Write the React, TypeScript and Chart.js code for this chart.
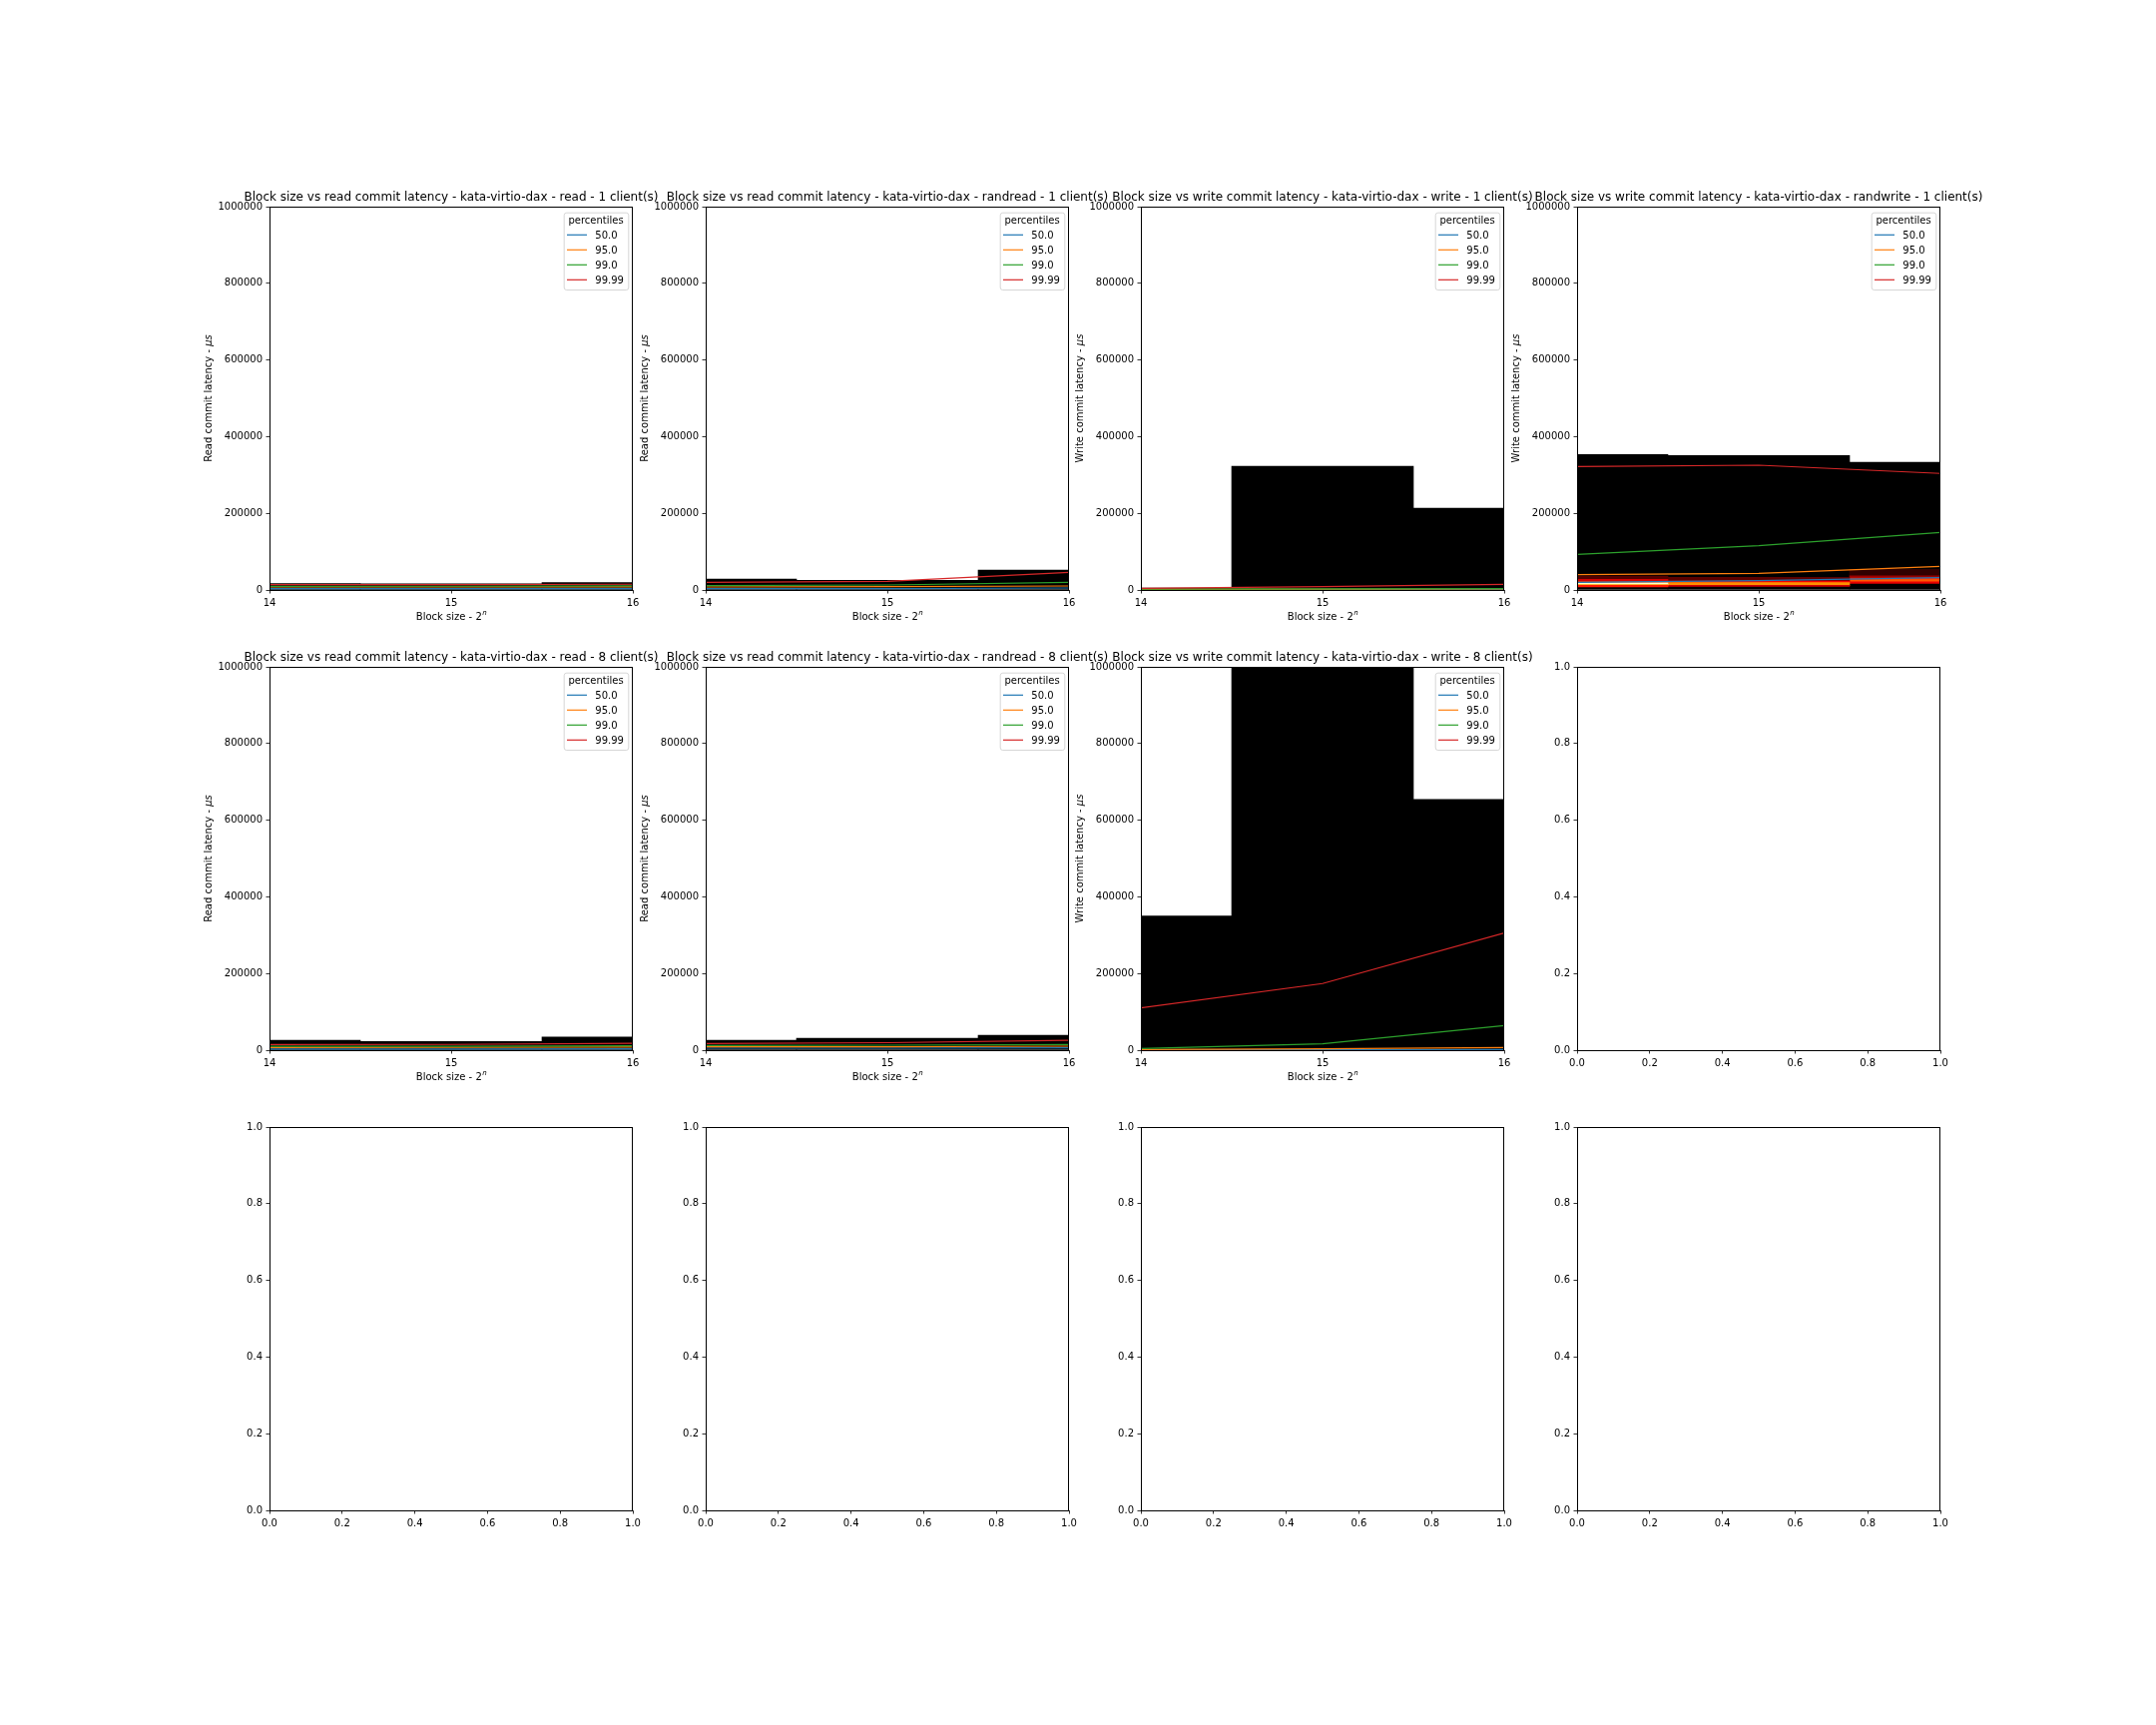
import React, { useEffect, useRef } from 'react';
import { Chart, registerables } from 'chart.js';

Chart.register(...registerables);

const FONT = "'DejaVu Sans', 'Liberation Sans', sans-serif";

// ---------------- data ----------------
const blockSizes = [14, 15, 16];
const percentileLabels = ['50.0', '95.0', '99.0', '99.99'];
const latencyMax = 1000000;
const latencyTickStep = 200000;
const unitTickStep = 0.2;

const panelTitles = [
  'Block size vs read commit latency - kata-virtio-dax - read - 1 client(s)',
  'Block size vs read commit latency - kata-virtio-dax - randread - 1 client(s)',
  'Block size vs write commit latency - kata-virtio-dax - write - 1 client(s)',
  'Block size vs write commit latency - kata-virtio-dax - randwrite - 1 client(s)',
  'Block size vs read commit latency - kata-virtio-dax - read - 8 client(s)',
  'Block size vs read commit latency - kata-virtio-dax - randread - 8 client(s)',
  'Block size vs write commit latency - kata-virtio-dax - write - 8 client(s)',
];
const readAxisLabel = ['Read commit latency - ', 'μs'];
const writeAxisLabel = ['Write commit latency - ', 'μs'];
const xAxisLabel = ['Block size - 2', 'n'];
const legendTitle = 'percentiles';

// percentile lines [p50, p95, p99, p99.99], values at block sizes 14, 15, 16 (µs)
const read1Lines = [[3500, 3500, 3800], [7800, 7800, 8200], [9600, 9800, 10500], [13900, 14000, 15000]];
const read1Max = [16500, 16000, 19000];

const randread1Lines = [[3500, 3500, 5200], [7800, 8700, 10400], [11300, 13000, 20000], [20000, 22600, 46000]];
const randread1Max = [28600, 25000, 52000];

const write1Lines = [[800, 900, 1000], [1800, 2200, 2800], [2500, 3000, 3800], [4400, 8700, 14800]];
const write1Max = [5000, 323000, 213500];

const randwrite1Lines = [[20000, 24300, 32000], [40000, 43400, 61600], [93000, 115500, 150000], [322000, 325500, 304000]];
const randwrite1Max = [353000, 350700, 333000];
// latency density bands [low, high, density 0..1] for each block size
const randwrite1Heat = [
  [[8000, 12000, 0.4], [12000, 14000, 0.6], [14000, 18500, 0.95], [18500, 22000, 0.45], [22000, 28000, 0.3], [28000, 36000, 0.12]],
  [[9000, 12000, 0.3], [12000, 19000, 0.58], [19000, 23000, 0.35], [23000, 33000, 0.13]],
  [[17000, 21000, 0.33], [21000, 27000, 0.5], [27000, 31000, 0.42], [31000, 37000, 0.22], [37000, 54000, 0.07]],
];

const read8Lines = [[3000, 3000, 3500], [7000, 7200, 8000], [10000, 10000, 11500], [14500, 15000, 18000]];
const read8Max = [26000, 22600, 34500];

const randread8Lines = [[5200, 5200, 6000], [8700, 8700, 10400], [12000, 13000, 14800], [17500, 19500, 25500]];
const randread8Max = [26000, 31000, 39000];

const write8Lines = [[900, 1200, 1700], [1700, 3500, 7000], [4300, 16500, 64300], [110300, 173800, 305800]];
const write8Max = [350000, 1200000, 654000];

// ---------------- styles / layout ----------------
const LINE_COLORS = ['#1f77b4', '#ff7f0e', '#2ca02c', '#d62728'];
const LINE_WIDTH = 1.2;
const COL_LEFT = [270, 707, 1143, 1580];
const ROW_TOP = [207, 668, 1129];
const PW = 364;
const PH = 384;
const ML = 120;
const MT = 40;
const MR = 90;
const MB = 50;
const CW = ML + PW + MR;
const CH = MT + PH + MB;

function hot(t: number) {
  const r = Math.min(1, t / 0.365);
  const g = Math.max(0, Math.min(1, (t - 0.365) / 0.381));
  const b = Math.max(0, Math.min(1, (t - 0.746) / 0.254));
  return `rgb(${Math.round(r * 255)},${Math.round(g * 255)},${Math.round(b * 255)})`;
}

type PanelCfg = {
  row: number;
  col: number;
  empty: boolean;
  title?: string;
  yLabel?: string[];
  lines?: number[][];
  max?: number[];
  heat?: number[][][] | null;
};

const panels: PanelCfg[] = [
  { row: 0, col: 0, empty: false, title: panelTitles[0], yLabel: readAxisLabel, lines: read1Lines, max: read1Max, heat: null },
  { row: 0, col: 1, empty: false, title: panelTitles[1], yLabel: readAxisLabel, lines: randread1Lines, max: randread1Max, heat: null },
  { row: 0, col: 2, empty: false, title: panelTitles[2], yLabel: writeAxisLabel, lines: write1Lines, max: write1Max, heat: null },
  { row: 0, col: 3, empty: false, title: panelTitles[3], yLabel: writeAxisLabel, lines: randwrite1Lines, max: randwrite1Max, heat: randwrite1Heat },
  { row: 1, col: 0, empty: false, title: panelTitles[4], yLabel: readAxisLabel, lines: read8Lines, max: read8Max, heat: null },
  { row: 1, col: 1, empty: false, title: panelTitles[5], yLabel: readAxisLabel, lines: randread8Lines, max: randread8Max, heat: null },
  { row: 1, col: 2, empty: false, title: panelTitles[6], yLabel: writeAxisLabel, lines: write8Lines, max: write8Max, heat: null },
  { row: 1, col: 3, empty: true },
  { row: 2, col: 0, empty: true },
  { row: 2, col: 1, empty: true },
  { row: 2, col: 2, empty: true },
  { row: 2, col: 3, empty: true },
];

const decorPlugin = {
  id: 'decor',
  afterDraw(chart: any, _args: any, o: any) {
    const ctx: CanvasRenderingContext2D = chart.ctx;
    const a = chart.chartArea;
    const cx = (a.left + a.right) / 2;
    const cy = (a.top + a.bottom) / 2;
    ctx.save();
    // spines
    ctx.strokeStyle = '#000';
    ctx.lineWidth = 1;
    ctx.strokeRect(a.left + 0.5, a.top + 0.5, a.right - a.left - 1, a.bottom - a.top);

    ctx.fillStyle = '#000';
    if (o.title) {
      ctx.font = `12px ${FONT}`;
      ctx.textAlign = 'center';
      ctx.textBaseline = 'alphabetic';
      ctx.fillText(o.title, cx, a.top - 6);
    }
    if (o.yLabel) {
      ctx.save();
      ctx.translate(a.left - 58.5, cy);
      ctx.rotate(-Math.PI / 2);
      ctx.textBaseline = 'alphabetic';
      ctx.textAlign = 'left';
      ctx.font = `10px ${FONT}`;
      const w1 = ctx.measureText(o.yLabel[0]).width;
      ctx.font = `italic 10px ${FONT}`;
      const w2 = ctx.measureText(o.yLabel[1]).width;
      const x0 = -(w1 + w2) / 2;
      ctx.font = `10px ${FONT}`;
      ctx.fillText(o.yLabel[0], x0, 0);
      ctx.font = `italic 10px ${FONT}`;
      ctx.fillText(o.yLabel[1], x0 + w1, 0);
      ctx.restore();
    }
    if (o.xLabel) {
      ctx.textBaseline = 'alphabetic';
      ctx.textAlign = 'left';
      ctx.font = `10px ${FONT}`;
      const w1 = ctx.measureText(o.xLabel[0]).width;
      ctx.font = `italic 7px ${FONT}`;
      const w2 = ctx.measureText(o.xLabel[1]).width;
      const x0 = cx - (w1 + w2) / 2;
      const by = a.bottom + 29.7;
      ctx.font = `10px ${FONT}`;
      ctx.fillText(o.xLabel[0], x0, by);
      ctx.font = `italic 7px ${FONT}`;
      ctx.fillText(o.xLabel[1], x0 + w1 + 0.5, by - 4.5);
    }
    if (o.legend) {
      const bx = a.right - 69.3;
      const by = a.top + 5.7;
      const bw = 64.6;
      const bh = 77.3;
      ctx.beginPath();
      (ctx as any).roundRect(bx + 0.5, by + 0.5, bw, bh, 2.5);
      ctx.fillStyle = 'rgba(255,255,255,0.8)';
      ctx.fill();
      ctx.strokeStyle = '#cccccc';
      ctx.lineWidth = 0.8;
      ctx.stroke();
      ctx.fillStyle = '#000';
      ctx.font = `10px ${FONT}`;
      ctx.textAlign = 'center';
      ctx.textBaseline = 'alphabetic';
      ctx.fillText(legendTitle, bx + bw / 2, a.top + 13.3 + 3.6);
      ctx.textAlign = 'left';
      percentileLabels.forEach((lab, i) => {
        const y = a.top + 28.3 + 15 * i;
        ctx.strokeStyle = LINE_COLORS[i];
        ctx.lineWidth = LINE_WIDTH;
        ctx.beginPath();
        ctx.moveTo(a.right - 66, y);
        ctx.lineTo(a.right - 46, y);
        ctx.stroke();
        ctx.fillStyle = '#000';
        ctx.fillText(lab, a.right - 37.7, y + 3.6);
      });
    }
    ctx.restore();
  },
};

function axisOptions(min: number, max: number, step: number, fmt: (v: number) => string, horizontal: boolean) {
  return {
    type: 'linear',
    min,
    max,
    offset: false,
    ticks: {
      stepSize: step,
      autoSkip: false,
      maxRotation: 0,
      minRotation: 0,
      color: '#000',
      font: { family: FONT, size: 10 },
      padding: 3.5,
      callback: (v: any) => fmt(Number(v)),
    },
    grid: {
      display: true,
      drawOnChartArea: false,
      drawTicks: true,
      tickLength: 3.5,
      tickWidth: 0.8,
      tickColor: '#000',
      color: '#000',
      offset: false,
    },
    border: { display: false },
    afterFit: (s: any) => {
      if (horizontal) s.height = MB;
      else s.width = ML;
    },
  };
}

function buildConfig(p: PanelCfg): any {
  const datasets: any[] = [];
  if (!p.empty && p.lines && p.max) {
    p.lines.forEach((vals, i) => {
      datasets.push({
        type: 'line',
        label: percentileLabels[i],
        data: blockSizes.map((x, j) => ({ x, y: vals[j] })),
        borderColor: LINE_COLORS[i],
        backgroundColor: LINE_COLORS[i],
        borderWidth: LINE_WIDTH,
        pointRadius: 0,
        pointHoverRadius: 0,
        tension: 0,
        fill: false,
        order: 3 - i,
      });
    });
    if (p.heat) {
      p.heat.forEach((bands, j) => {
        bands.forEach(([lo, hi, d]) => {
          datasets.push({
            type: 'bar',
            data: [{ x: blockSizes[j], y: [lo, hi] }],
            backgroundColor: hot(d),
            borderWidth: 0,
            grouped: false,
            barPercentage: 1,
            categoryPercentage: 1,
            order: 10,
            clip: 0,
          });
        });
      });
    }
    datasets.push({
      type: 'bar',
      data: blockSizes.map((x, j) => ({ x, y: p.max![j] })),
      backgroundColor: '#000',
      borderWidth: 0,
      grouped: false,
      barPercentage: 1,
      categoryPercentage: 1,
      order: 20,
      clip: 0,
    });
  }
  const x = p.empty
    ? axisOptions(0, 1, unitTickStep, (v) => v.toFixed(1), true)
    : axisOptions(blockSizes[0], blockSizes[blockSizes.length - 1], 1, (v) => String(v), true);
  const y = p.empty
    ? axisOptions(0, 1, unitTickStep, (v) => v.toFixed(1), false)
    : axisOptions(0, latencyMax, latencyTickStep, (v) => String(v), false);
  return {
    type: 'line',
    data: { datasets },
    options: {
      animation: false,
      responsive: false,
      devicePixelRatio: 1,
      events: [],
      parsing: true,
      layout: { padding: { left: 0, top: MT, right: MR, bottom: 0 } },
      scales: { x, y },
      plugins: {
        legend: { display: false },
        title: { display: false },
        tooltip: { enabled: false },
        decor: p.empty
          ? { title: '', yLabel: null, xLabel: null, legend: false }
          : { title: p.title, yLabel: p.yLabel, xLabel: xAxisLabel, legend: true },
      },
    },
    plugins: [decorPlugin],
  };
}

function Panel({ cfg }: { cfg: PanelCfg }) {
  const ref = useRef<HTMLCanvasElement>(null);
  useEffect(() => {
    if (!ref.current) return;
    const chart = new Chart(ref.current, buildConfig(cfg));
    return () => chart.destroy();
  }, [cfg]);
  return (
    <canvas
      ref={ref}
      width={CW}
      height={CH}
      style={{
        position: 'absolute',
        left: COL_LEFT[cfg.col] - ML,
        top: ROW_TOP[cfg.row] - MT,
        width: CW,
        height: CH,
      }}
    />
  );
}

export default function App() {
  return (
    <div
      style={{
        position: 'absolute',
        left: 0,
        top: 0,
        width: 2160,
        height: 1728,
        background: '#ffffff',
        overflow: 'hidden',
      }}
    >
      {panels.map((p, i) => (
        <Panel key={i} cfg={p} />
      ))}
    </div>
  );
}
